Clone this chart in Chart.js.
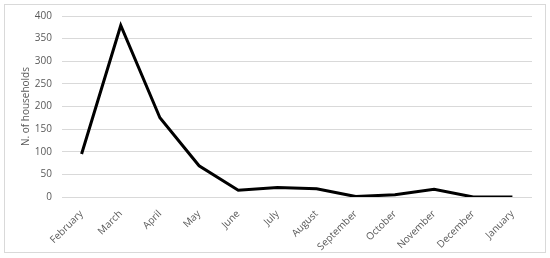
<!DOCTYPE html>
<html>
<head>
<meta charset="utf-8">
<script src="https://cdn.jsdelivr.net/npm/chart.js@4"></script>
<style>
  body { margin: 0; background: #fff; }
  #frame { position: absolute; left: 4px; top: 4px; width: 540px; height: 247px; border: 1px solid #d9d9d9; }
  #wrap { position: absolute; left: 0; top: 0; width: 550px; height: 258px; }
</style>
</head>
<body>
<div id="frame"></div>
<div id="wrap"><canvas id="myChart"></canvas></div>
<script>
// dados
const months = ['February', 'March', 'April', 'May', 'June', 'July', 'August', 'September', 'October', 'November', 'December', 'January'];
const households = [95, 379, 175, 69, 15, 21, 18, 1, 5, 17, 0, 0];
const yTicks = [0, 50, 100, 150, 200, 250, 300, 350, 400];

const ctx = document.getElementById('myChart');

new Chart(ctx, {
    type: 'line',
    data: {
        labels: months,
        datasets: [{
            data: households,
            borderColor: '#000',
            borderWidth: 3,
            pointRadius: 0,
            tension: 0,
            fill: false
        }]
    },
    options: {
        responsive: true,
        maintainAspectRatio: false,
        animation: false,
        layout: { padding: { left: 20, right: 18, top: 16, bottom: 0 } },
        plugins: { legend: { display: false }, tooltip: { enabled: false } },
        scales: {
            x: {
                offset: true,
                grid: { display: false },
                border: { display: false },
                ticks: {
                    color: '#595959',
                    font: { family: 'Open Sans', size: 10 },
                    maxRotation: 45,
                    minRotation: 45,
                    padding: 3
                },
                afterFit: (scale) => { scale.height = 61; }
            },
            y: {
                min: yTicks[0],
                max: yTicks[yTicks.length - 1],
                afterBuildTicks: (scale) => { scale.ticks = yTicks.map(v => ({ value: v })); },
                grid: { color: '#d9d9d9', lineWidth: 1, drawTicks: false },
                border: { display: false },
                ticks: {
                    color: '#595959',
                    font: { family: 'Open Sans', size: 10 },
                    padding: 10
                },
                title: {
                    display: true,
                    text: 'N. of households',
                    color: '#595959',
                    font: { family: 'Open Sans', size: 10 },
                    padding: 0
                },
                afterFit: (scale) => { scale.width = 42; }
            }
        }
    }
});
</script>
</body>
</html>
